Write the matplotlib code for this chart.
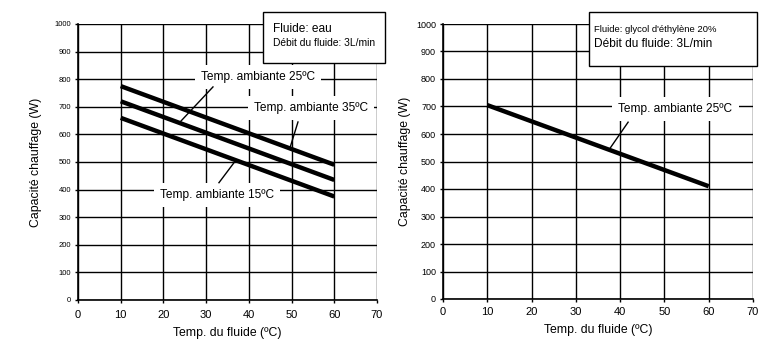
import matplotlib
matplotlib.use("Agg")
import matplotlib.pyplot as plt
from matplotlib.patches import Rectangle

plt.rcParams['font.family'] = ['Liberation Sans', 'DejaVu Sans']

# Data
fluid_temp = [10, 60]
left_25 = [775, 490]
left_35 = [720, 435]
left_15 = [660, 375]
right_25 = [705, 410]
xticks = [0, 10, 20, 30, 40, 50, 60, 70]
yticks = [0, 100, 200, 300, 400, 500, 600, 700, 800, 900, 1000]
xlabel = "Temp. du fluide (ºC)"
ylabel = "Capacité chauffage (W)"

fig = plt.figure(figsize=(7.72, 3.42), dpi=100)
axL = fig.add_axes([78/772, 42/342, 299/772, 276/342])
axR = fig.add_axes([443/772, 43/342, 310/772, 275/342])


def style(ax, ytick_size, xpad):
    ax.set_xlim(0, 70)
    ax.set_ylim(0, 1000)
    ax.set_xticks(xticks)
    ax.set_yticks(yticks)
    ax.grid(True, color='black', linewidth=1.0)
    ax.set_axisbelow(True)
    for s in ['top', 'right']:
        ax.spines[s].set_visible(False)
    for s in ['left', 'bottom']:
        ax.spines[s].set_linewidth(1.2)
    ax.tick_params(axis='both', direction='out', length=2.5, width=1, color='black')
    ax.tick_params(axis='x', labelsize=8, pad=xpad)
    ax.tick_params(axis='y', labelsize=ytick_size, pad=2.5)


style(axL, 5.5, 5)
style(axR, 6.5, 3.5)
axL.set_xlabel(xlabel, fontsize=8.8, labelpad=5)
axL.set_ylabel(ylabel, fontsize=8.8, labelpad=9)
axR.set_xlabel(xlabel, fontsize=8.8, labelpad=5)
axR.set_ylabel(ylabel, fontsize=8.8, labelpad=4)

lw = 3.2
for ys in (left_25, left_35, left_15):
    axL.plot(fluid_temp, ys, color='black', linewidth=lw, solid_capstyle='butt', zorder=3)
axR.plot(fluid_temp, right_25, color='black', linewidth=lw, solid_capstyle='butt', zorder=3)

bbox_white = dict(boxstyle='square,pad=0.5', facecolor='white', edgecolor='none')
fs_ann = 8.6

# Left annotations
axL.text(42.2, 808, "Temp. ambiante 25ºC", fontsize=fs_ann, ha='center', va='center', bbox=bbox_white, zorder=4)
axL.plot([31.6, 23.9], [772, 645], color='black', linewidth=1.0, zorder=5)
axL.text(54.5, 695, "Temp. ambiante 35ºC", fontsize=fs_ann, ha='center', va='center', bbox=bbox_white, zorder=4)
axL.plot([51.5, 49.7], [645, 555], color='black', linewidth=1.0, zorder=5)
axL.text(32.5, 380, "Temp. ambiante 15ºC", fontsize=fs_ann, ha='center', va='center', bbox=bbox_white, zorder=4)
axL.plot([33.0, 36.5], [425, 497], color='black', linewidth=1.0, zorder=5)

# Right annotation
axR.text(52.5, 690, "Temp. ambiante 25ºC", fontsize=fs_ann, ha='center', va='center', bbox=bbox_white, zorder=4)
axR.plot([41.8, 37.8], [643, 550], color='black', linewidth=1.0, zorder=5)

# Info boxes (figure pixel coords)
def info_box(x0, y0, x1, y1, lines, sizes, tx, ty):
    r = Rectangle((x0/772, 1 - y1/342), (x1-x0)/772, (y1-y0)/342,
                  transform=fig.transFigure, facecolor='white', edgecolor='black',
                  linewidth=1.0, zorder=10)
    fig.add_artist(r)
    for i, (ln, sz) in enumerate(zip(lines, sizes)):
        fig.text(tx/772, 1 - (ty + i*14)/342, ln, fontsize=sz, ha='left', va='center', zorder=11)

info_box(263, 12, 385, 63, ["Fluide: eau", "Débit du fluide: 3L/min"], [8.6, 7.4], 273, 29)
info_box(589, 12, 757, 66, ["Fluide: glycol d'éthylène 20%", "Débit du fluide: 3L/min"], [6.8, 8.6], 594, 30)

fig.savefig("out.png", dpi=100)
